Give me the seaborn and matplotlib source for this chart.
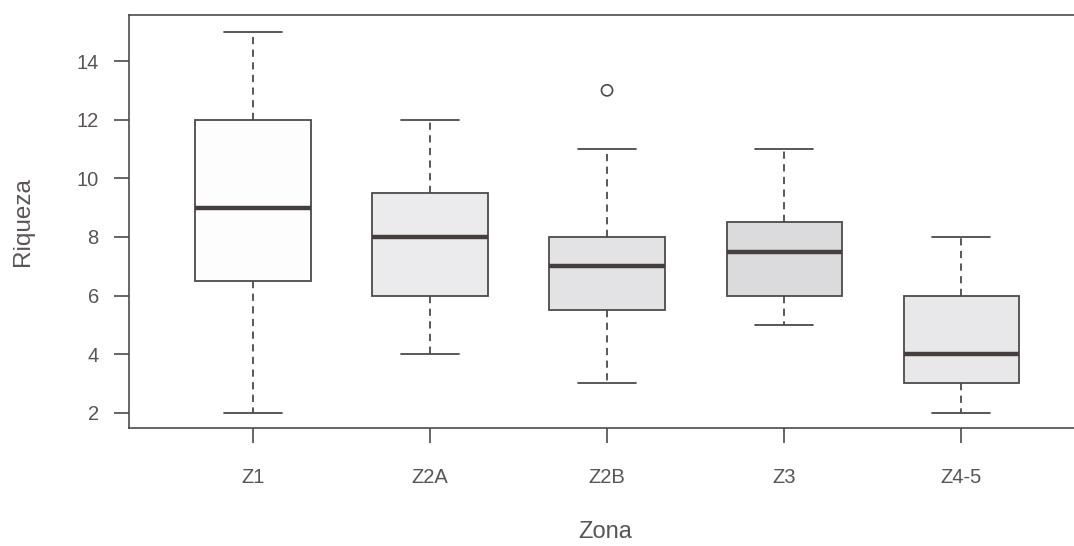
import matplotlib
matplotlib.use("Agg")
import matplotlib.pyplot as plt
import seaborn as sns
import pandas as pd

# Five-number summaries (R-style boxplot)
zones = ["Z1", "Z2A", "Z2B", "Z3", "Z4-5"]
whisker_low = [2, 4, 3, 5, 2]
q1 = [6.5, 6, 5.5, 6, 3]
median = [9, 8, 7, 7.5, 4]
q3 = [12, 9.5, 8, 8.5, 6]
whisker_high = [15, 12, 11, 11, 8]
outlier_zone = ["Z2B"]
outlier_value = [13]

fills = ["#fdfdfd", "#ebebee", "#e3e3e7", "#dadadf", "#e8e8eb"]
yticks = [2, 4, 6, 8, 10, 12, 14]

rows = []
for i, z in enumerate(zones):
    for v in (whisker_low[i], q1[i], median[i], q3[i], whisker_high[i]):
        rows.append({"Zona": z, "Riqueza": v})
df = pd.DataFrame(rows)
out_df = pd.DataFrame({"Zona": outlier_zone, "Riqueza": outlier_value})

sns.set_style("white")
plt.rcParams["font.family"] = ["Liberation Sans", "DejaVu Sans"]

line_c = "#4f4a4a"
text_c = "#5a5555"

fig = plt.figure(figsize=(10.74, 5.46), dpi=100)
ax = fig.add_axes([128.7 / 1074, 1 - 428 / 546, 1 - 128.7 / 1074, (428 - 15) / 546])

sns.boxplot(
    data=df, x="Zona", y="Riqueza", hue="Zona", order=zones, hue_order=zones,
    palette=dict(zip(zones, fills)), legend=False, width=0.65, dodge=False,
    linecolor=line_c, linewidth=1.3, whis=1.5, ax=ax,
    whiskerprops=dict(linestyle=(0, (4, 3)), color=line_c, linewidth=1.3),
    capprops=dict(color=line_c, linewidth=1.3),
    medianprops=dict(color="#463e3e", linewidth=3.2),
    boxprops=dict(edgecolor=line_c, linewidth=1.3),
)
sns.stripplot(
    data=out_df, x="Zona", y="Riqueza", order=zones, jitter=False,
    color="none", edgecolor=line_c, linewidth=1.2, size=8, marker="o", ax=ax,
)

ax.set_xlim(-0.702, 4.638)
ax.set_ylim(1.48, 15.57)
ax.set_yticks(yticks)
ax.set_yticklabels([str(t) for t in yticks])

for s in ["left", "top", "bottom"]:
    ax.spines[s].set_visible(True)
    ax.spines[s].set_color(line_c)
    ax.spines[s].set_linewidth(1.2)
ax.spines["right"].set_visible(False)

ax.set_xticks(range(len(zones)))
ax.set_xticklabels(zones)
ax.tick_params(axis="both", direction="out", length=10.5, width=1.2, color=line_c,
               labelcolor=text_c, labelsize=14.5, bottom=True, left=True,
               top=False, right=False)
ax.tick_params(axis="y", pad=11)
ax.tick_params(axis="x", pad=18)

ax.set_xlabel("Zona", fontsize=17, color=text_c)
ax.set_ylabel("Riqueza", fontsize=17.5, color=text_c)
ax.xaxis.set_label_coords(0.504, -0.2250)
ax.yaxis.set_label_coords(-0.100, 0.5)

fig.savefig("out.png", dpi=100)
